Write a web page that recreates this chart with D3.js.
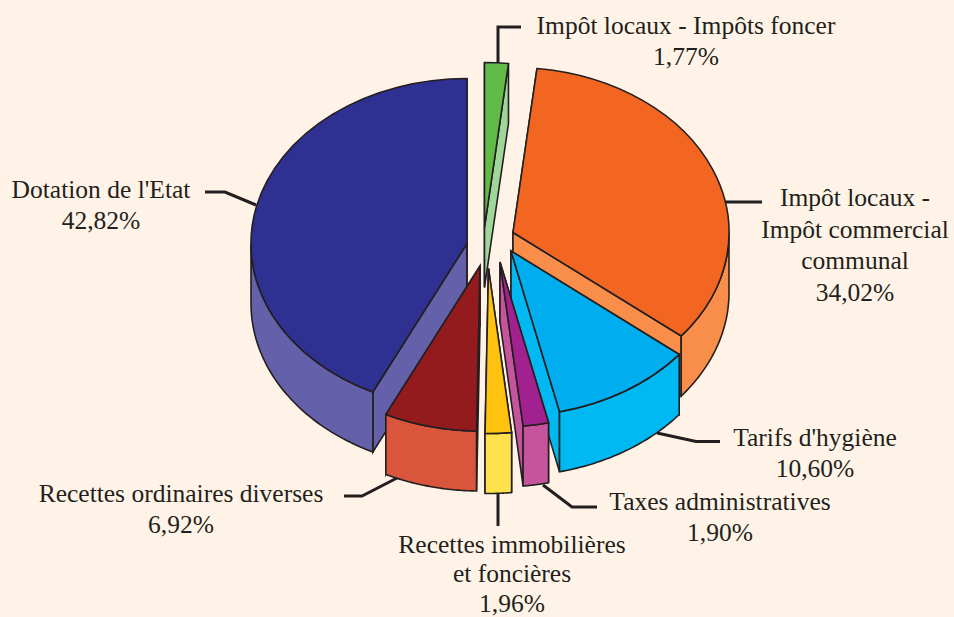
<!DOCTYPE html>
<html>
<head>
<meta charset="utf-8">
<script src="https://d3js.org/d3.v7.min.js"></script>
<style>
  html, body { margin: 0; padding: 0; background: #fef3e6; }
  svg { display: block; }
  text { font-family: "Liberation Serif", serif; font-size: 25.5px; fill: #231f20; }
</style>
</head>
<body>
<div id="chart"></div>
<script>
// ── Data ─────────────────────────────────────────────
const categories = [
  "Impôt locaux - Impôts foncer",
  "Impôt locaux - Impôt commercial communal",
  "Tarifs d'hygiène",
  "Taxes administratives",
  "Recettes immobilières et foncières",
  "Recettes ordinaires diverses",
  "Dotation de l'Etat"
];
const shares = [1.77, 34.02, 10.60, 1.90, 1.96, 6.92, 42.82];
const labelLines = [
  ["Impôt locaux - Impôts foncer"],
  ["Impôt locaux -", "Impôt commercial", "communal"],
  ["Tarifs d'hygiène"],
  ["Taxes administratives"],
  ["Recettes immobilières", "et foncières"],
  ["Recettes ordinaires diverses"],
  ["Dotation de l'Etat"]
];

// ── Styling & layout ─────────────────────────────────
const topColors  = ["#63bb47", "#f36621", "#00aeef", "#a0218f", "#ffc20e", "#931a1d", "#2e3192"];
const sideColors = ["#a0d69a", "#f98e4a", "#00b9f2", "#c5549c", "#ffe14d", "#d9553c", "#6460aa"];
const ink = "#231f20";

const width = 954, height = 617;
const rx = 216, ry = 165, depth = 60;   // ellipse radii and extrusion height

// exploded apex of each slice
const apexes = [[484.5, 227.5], [513, 232.5], [511, 251], [500, 262], [488.5, 268.5], [480, 266], [467, 243.5]];
// back to front
const drawOrder = [0, 1, 6, 2, 3, 5, 4];

// label anchor (centre x, first baseline y, line step)
const labelPos = [
  [686, 34, 31], [855, 206, 31.5], [815, 446, 31], [720, 510, 31],
  [512, 553, 29.4], [181, 502, 31], [101, 198, 31]
];
const leaders = [
  [[498, 63], [498, 27], [521, 27]],
  [[725, 202], [762, 202]],
  [[657, 433], [696, 441.5], [720, 441.5]],
  [[543, 485], [572, 507], [597, 507]],
  [[498, 493], [498, 526]],
  [[344, 496], [362, 496], [397, 478]],
  [[205, 192], [225, 192], [256, 205]]
];

// ── Chart ────────────────────────────────────────────
const svg = d3.select("#chart").append("svg")
  .attr("width", width)
  .attr("height", height)
  .style("background", "#fef3e6");

const slices = d3.pie().sort(null).value(d => d)(shares);
const unitArc = d3.arc().innerRadius(0).outerRadius(1);
const line = d3.line();

// point on the rim of slice i, dropped by dz
function rim(i, angle, dz) {
  return [apexes[i][0] + rx * Math.sin(angle), apexes[i][1] - ry * Math.cos(angle) + dz];
}

function outerWall(i, a0, a1) {
  const steps = d3.range(0, 41).map(k => a0 + (a1 - a0) * k / 40);
  const pts = steps.map(a => rim(i, a, 0)).concat(steps.reverse().map(a => rim(i, a, depth)));
  return line(pts) + "Z";
}

function edgeWall(i, angle) {
  const [ax, ay] = apexes[i];
  return line([[ax, ay], rim(i, angle, 0), rim(i, angle, depth), [ax, ay + depth]]) + "Z";
}

drawOrder.forEach(i => {
  const s = slices[i];
  const g = svg.append("g").attr("class", "slice")
    .attr("stroke", ink)
    .attr("stroke-width", 1.6)
    .attr("stroke-linejoin", "miter");

  // flat cut faces
  [s.startAngle, s.endAngle].forEach(a => {
    g.append("path").attr("d", edgeWall(i, a)).attr("fill", sideColors[i]);
  });

  // rounded wall, only the half that faces the viewer
  const a0 = Math.max(s.startAngle, Math.PI / 2);
  const a1 = Math.min(s.endAngle, Math.PI * 1.5);
  if (a1 > a0) {
    g.append("path").attr("d", outerWall(i, a0, a1)).attr("fill", sideColors[i]);
  }

  // top face
  g.append("path")
    .attr("d", unitArc(s))
    .attr("transform", `translate(${apexes[i][0]},${apexes[i][1]}) scale(${rx},${ry})`)
    .attr("vector-effect", "non-scaling-stroke")
    .attr("fill", topColors[i]);
});

// Leaders
svg.selectAll(".leader")
  .data(leaders)
  .join("path")
    .attr("class", "leader")
    .attr("d", d => line(d))
    .attr("fill", "none")
    .attr("stroke", ink)
    .attr("stroke-width", 3);

// Labels
const pct = v => v.toFixed(2).replace(".", ",") + "%";
shares.forEach((v, i) => {
  const [x, y, step] = labelPos[i];
  const lines = labelLines[i].concat(pct(v));
  const t = svg.append("text").attr("text-anchor", "middle");
  lines.forEach((txt, k) => {
    t.append("tspan").attr("x", x).attr("y", y + k * step).text(txt);
  });
});
</script>
</body>
</html>
